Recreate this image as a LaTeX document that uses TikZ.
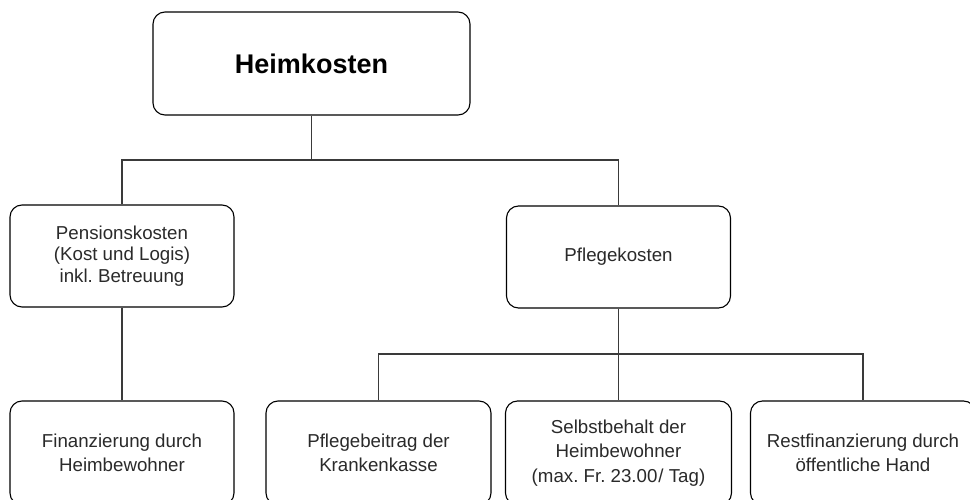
\documentclass[tikz,border=0pt]{standalone}
\usepackage{fontspec}
\setmainfont{Liberation Sans}
\frenchspacing
\definecolor{txt}{HTML}{2A2A2A}
\definecolor{ln}{HTML}{3A3A3A}
\tikzset{
  box/.style={draw=black, line width=1.1pt, rounded corners=12pt, fill=white,
    align=center, inner sep=0pt, text=txt, font=\fontsize{18.7}{21.5}\selectfont},
  topbox/.style={box, minimum width=317pt, minimum height=103pt, text=black,
    font=\fontsize{27}{30}\selectfont\bfseries},
  midbox/.style={box, minimum width=224pt, minimum height=102pt},
  lowbox/.style={box, minimum width=225pt, minimum height=104pt,
    font=\fontsize{18.7}{23.5}\selectfont},
  conn/.style={draw=ln, line width=1.4pt}
}
\begin{document}
\begin{tikzpicture}[x=1pt,y=1pt]
\useasboundingbox (0,0) rectangle (970,-500);
\fill[white] (0,0) rectangle (970,-500);
\node[topbox] (top) at (311.5,-63.5) {Heimkosten};
\node[midbox] (pens) at (122,-256) {Pensionskosten\\(Kost und Logis)\\inkl. Betreuung};
\node[midbox] (pfl) at (618.5,-257) {Pflegekosten};
\node[lowbox, minimum width=224pt] (b1) at (122,-453) {Finanzierung durch\\Heimbewohner};
\node[lowbox] (b2) at (378.5,-453) {Pflegebeitrag der\\Krankenkasse};
\node[lowbox, minimum width=226pt, font=\fontsize{18.7}{24.5}\selectfont] (b3) at (618.5,-453) {Selbstbehalt der\\Heimbewohner\\(max. Fr. 23.00\kern1pt/ Tag)};
\node[lowbox] (b4) at (863,-453) {Restfinanzierung durch\\öffentliche Hand};
\coordinate (j1) at (311.5,-160);
\coordinate (j2) at (618.5,-354);
\draw[conn] (top.south) -- (j1);
\draw[conn] (pens.north) |- (j1) -| (pfl.north);
\draw[conn] (pens.south) -- (b1.north);
\draw[conn] (pfl.south) -- (j2);
\draw[conn] (b2.north) |- (j2) -| (b4.north);
\draw[conn] (j2) -- (b3.north);
\end{tikzpicture}
\end{document}
